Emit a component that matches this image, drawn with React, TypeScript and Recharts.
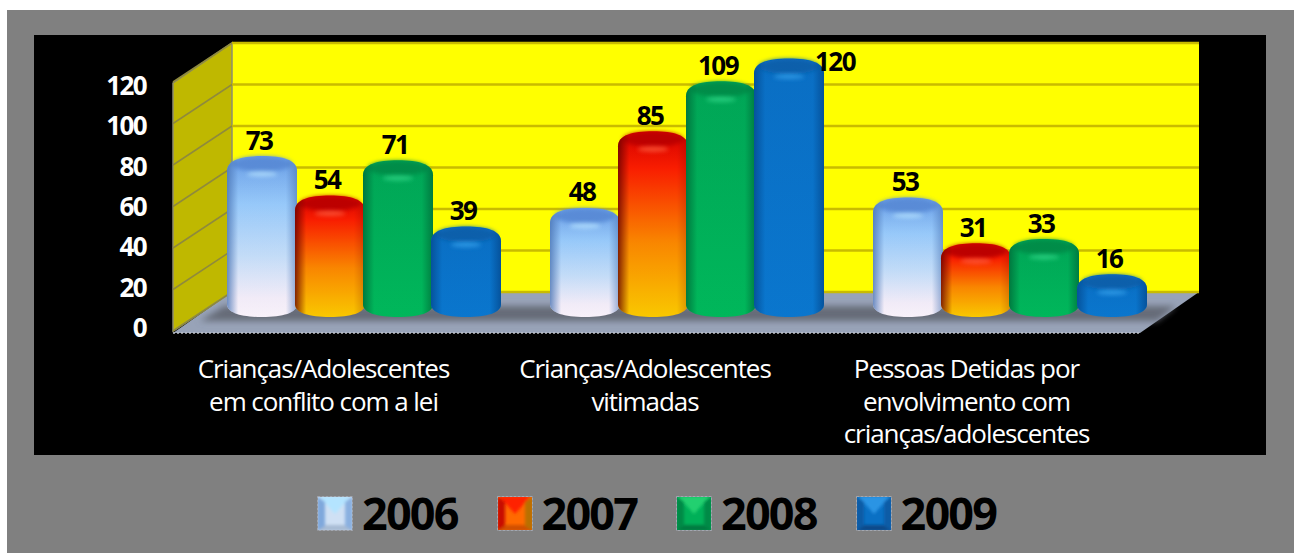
import { Bar, BarChart, CartesianGrid, LabelList, Legend, XAxis, YAxis } from 'recharts';

const categories = ['conflito', 'vitimadas', 'detidas'];
const categoryLines = [
  ['Crianças/Adolescentes', 'em conflito com a lei'],
  ['Crianças/Adolescentes', 'vitimadas'],
  ['Pessoas Detidas por', 'envolvimento com', 'crianças/adolescentes'],
];
const years = ['2006', '2007', '2008', '2009'];
const values2006 = [73, 48, 53];
const values2007 = [54, 85, 31];
const values2008 = [71, 109, 33];
const values2009 = [39, 120, 16];
const yTicks = [0, 20, 40, 60, 80, 100, 120];

const data = categories.map((category, i) => ({
  category,
  '2006': values2006[i],
  '2007': values2007[i],
  '2008': values2008[i],
  '2009': values2009[i],
}));

const FONT = '"Open Sans", "Noto Sans", sans-serif';

// vertical body colours per year
const bodyStops: [number, string][][] = [
  [[0, '#6a9fe8'], [0.3, '#9accfc'], [0.62, '#c8e0fa'], [0.88, '#f8f0fa'], [1, '#fff6fc']],
  [[0, '#d80000'], [0.2, '#ff1e00'], [0.6, '#ff8c00'], [1, '#ffd000']],
  [[0, '#00a858'], [1, '#00ba5c']],
  [[0, '#0a70c6'], [1, '#0a78d0']],
];
const edgeColors = ['#4a74b4', '#640000', '#006a38', '#044a90'];
const edgeRight = [0.6, 0.25, 0.75, 0.8];
const capColors = ['#5a8cd8', '#c00000', '#008e4a', '#0a60ac'];
const glowColors = ['#b8e4ff', '#ff6040', '#30d888', '#38a4ee'];

function Cylinder(props: any) {
  const { x, y, width: w, height: h, series } = props;
  const top = y - 4.5;
  const bottom = y + h + 5;
  const cx = x + w / 2;
  const outline =
    `M${x},${top + 15} C${x},${top + 4} ${x + w * 0.2},${top} ${cx},${top} ` +
    `C${x + w * 0.8},${top} ${x + w},${top + 4} ${x + w},${top + 15} ` +
    `L${x + w},${bottom - 13} C${x + w},${bottom - 4} ${x + w * 0.8},${bottom} ${cx},${bottom} ` +
    `C${x + w * 0.2},${bottom} ${x},${bottom - 4} ${x},${bottom - 13} Z`;
  return (
    <g>
      <path d={outline} fill={`url(#body${series})`} />
      <ellipse cx={cx} cy={top + 8} rx={w / 2 - 5} ry={7.5} fill={capColors[series]} filter="url(#soft)" />
      <path d={outline} fill={`url(#edge${series})`} />
      <ellipse cx={cx} cy={top + 18} rx={15} ry={2.6} fill={glowColors[series]} opacity={0.75} filter="url(#soft)" />
    </g>
  );
}

function ValueLabel(props: any) {
  const { x, y, width, value } = props;
  // the tallest bar has no room above it, so its label sits beside the top
  const atTop = value >= 120;
  return (
    <text
      x={atTop ? x + width + 11 : x + width / 2 - 3}
      y={atTop ? y - 2 : y - 21}
      textAnchor="middle"
      dominantBaseline="central"
      fontFamily={FONT}
      fontSize={26}
      fontWeight={700}
      letterSpacing={-1.6}
      fill="#000"
    >
      {value}
    </text>
  );
}

function CategoryTick(props: any) {
  const { x, index } = props;
  return (
    <text
      x={x - 40}
      textAnchor="middle"
      fontFamily={FONT}
      fontSize={26}
      fontWeight={500}
      letterSpacing={-1.05}
      fill="#fff"
    >
      {categoryLines[index].map((line, i) => (
        <tspan key={i} x={x - 40 - index * 1.5} y={378 + i * 32.5}>
          {line}
        </tspan>
      ))}
    </text>
  );
}

function ValueTick(props: any) {
  const { y, payload } = props;
  // the axis numbers follow the front edge of the side wall
  const frontY = 327 - (312 - y) * (242 / 249);
  return (
    <text
      x={146}
      y={frontY}
      textAnchor="end"
      dominantBaseline="central"
      fontFamily={FONT}
      fontSize={26}
      fontWeight={700}
      letterSpacing={-1.6}
      fill="#fff"
    >
      {payload.value}
    </text>
  );
}

function WallGridLine(props: any) {
  const { y1 } = props;
  return (
    <g>
      <line x1={232} y1={y1 - 20} x2={1199} y2={y1 - 20} stroke="#c9bb00" strokeWidth={2.5} />
      <line x1={173} y1={y1 + 19} x2={232} y2={y1 - 20} stroke="#8f8a3c" strokeWidth={1.5} />
    </g>
  );
}

function Swatch({ series }: { series: number }) {
  const shades = [
    ['#b4e4ff', '#7fa8dc', '#8ab0e0', '#a8bcd4', '#cfe0f4'],
    ['#ff2000', '#c80c00', '#b87000', '#d05000', '#ff6a00'],
    ['#20d070', '#008a46', '#008a46', '#007a40', '#00b058'],
    ['#2a94e4', '#0a5ca6', '#0a5ca6', '#084a88', '#0a70c4'],
  ][series];
  const id = `swatchBlur${series}`;
  return (
    <svg width={36} height={35} style={{ display: 'block' }}>
      <defs>
        <filter id={id} x="-10%" y="-10%" width="120%" height="120%">
          <feGaussianBlur stdDeviation="1.8" />
        </filter>
        <clipPath id={`${id}c`}>
          <rect x={1} y={1} width={34} height={33} />
        </clipPath>
      </defs>
      <g clipPath={`url(#${id}c)`}>
        <rect x={0} y={0} width={36} height={35} fill={shades[4]} />
        <g filter={`url(#${id})`}>
          <polygon points="2,0 34,0 18,18" fill={shades[0]} />
          <polygon points="0,35 36,35 36,29 0,29" fill={shades[3]} />
          <polygon points="0,0 0,35 8,30 8,6" fill={shades[1]} />
          <polygon points="36,0 36,35 28,30 28,6" fill={shades[2]} />
        </g>
      </g>
      <rect x={0.5} y={0.5} width={35} height={34} fill="none" stroke="#b0b8c4" strokeWidth={1} strokeDasharray="3 1" strokeOpacity={0.7} />
    </svg>
  );
}

function LegendRow(props: any) {
  const { payload } = props;
  return (
    <div style={{ display: 'flex' }}>
      {payload.map((entry: any, i: number) => (
        <div key={entry.value} style={{ width: 179.5, display: 'flex', alignItems: 'center' }}>
          <Swatch series={i} />
          <span
            style={{
              marginLeft: 9,
              fontFamily: FONT,
              fontSize: 45,
              fontWeight: 700,
              letterSpacing: -1.8,
              lineHeight: '46px',
              color: '#000',
            }}
          >
            {entry.value}
          </span>
        </div>
      ))}
    </div>
  );
}

export default function App() {
  return (
    <div style={{ position: 'absolute', left: 0, top: 0, width: 1302, height: 553, background: '#fff', overflow: 'hidden' }}>
      <div style={{ position: 'absolute', left: 7, top: 10, width: 1287, height: 543, background: '#808080' }} />
      <div style={{ position: 'absolute', left: 34, top: 35, width: 1232, height: 420, background: '#000' }} />
      <svg width={1302} height={553} style={{ position: 'absolute', left: 0, top: 0 }}>
        <defs>
          <filter id="shadowBlur" x="-5%" y="-50%" width="110%" height="200%">
            <feGaussianBlur stdDeviation="3" />
          </filter>
        </defs>
        <polygon points="232,43 1199,43 1199,292 232,292" fill="#ffff00" />
        <polygon points="173,83 232,43 232,292 173,331" fill="#bfb800" stroke="#8d8d70" strokeWidth={1.5} />
        <polygon points="173,333 232,292 1199,292 1140,333" fill="#98a3b8" />
        <polygon points="224,306 1176,306 1157,321 200,321" fill="#666c78" filter="url(#shadowBlur)" />
        <line x1={173} y1={333} x2={1140} y2={333} stroke="#c0c4cc" strokeWidth={1.5} strokeDasharray="2 2" />
      </svg>
      <div style={{ position: 'absolute', left: 0, top: 0 }}>
        <BarChart
          width={1302}
          height={553}
          data={data}
          barSize={70}
          barGap={-2}
          margin={{ top: 63, right: 131, bottom: 121, left: 143 }}
        >
          <defs>
            {bodyStops.map((stops, i) => (
              <linearGradient key={i} id={`body${i}`} x1="0" y1="0" x2="0" y2="1">
                {stops.map(([offset, color]) => (
                  <stop key={offset} offset={offset} stopColor={color} />
                ))}
              </linearGradient>
            ))}
            {edgeColors.map((color, i) => (
              <linearGradient key={i} id={`edge${i}`} x1="0" y1="0" x2="1" y2="0">
                <stop offset={0} stopColor={color} stopOpacity={0.8} />
                <stop offset={0.16} stopColor={color} stopOpacity={0.04} />
                <stop offset={0.84} stopColor={color} stopOpacity={0.04} />
                <stop offset={1} stopColor={color} stopOpacity={edgeRight[i]} />
              </linearGradient>
            ))}
            <filter id="soft" x="-20%" y="-80%" width="140%" height="260%">
              <feGaussianBlur stdDeviation="2.2" />
            </filter>
          </defs>
          <CartesianGrid vertical={false} horizontal={WallGridLine as any} />
          <XAxis
            dataKey="category"
            height={120}
            axisLine={false}
            tickLine={false}
            tick={<CategoryTick />}
            interval={0}
          />
          <YAxis
            domain={[0, 120]}
            ticks={yTicks}
            width={59}
            axisLine={false}
            tickLine={false}
            tick={<ValueTick />}
            interval={0}
          />
          <Legend
            verticalAlign="middle"
            content={<LegendRow />}
            wrapperStyle={{ left: 317, top: 490, width: 760 }}
          />
          {years.map((year, i) => (
            <Bar
              key={year}
              dataKey={year}
              name={year}
              fill={capColors[i]}
              isAnimationActive={false}
              shape={(p: any) => <Cylinder {...p} series={i} />}
            >
              <LabelList dataKey={year} content={<ValueLabel />} />
            </Bar>
          ))}
        </BarChart>
      </div>
    </div>
  );
}
